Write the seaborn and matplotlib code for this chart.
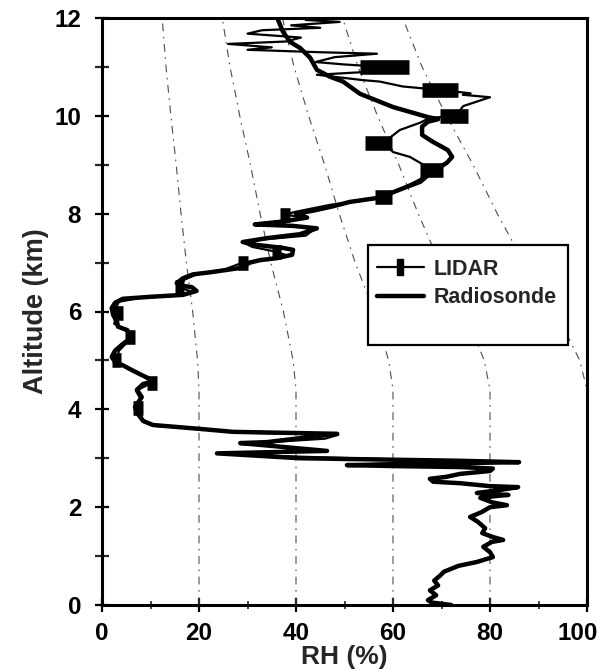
import numpy as np
import pandas as pd
import matplotlib
matplotlib.use("Agg")
import matplotlib.pyplot as plt
import matplotlib.transforms as mtransforms
import seaborn as sns
from matplotlib.lines import Line2D
from matplotlib.patches import Rectangle
from matplotlib.path import Path

# ---------------- data ----------------
sonde_alt = [0.0, 0.05, 0.1, 0.2, 0.3, 0.4, 0.5, 0.6, 0.68, 0.8, 0.88, 0.98, 1.08, 1.19, 1.29, 1.33,
             1.39, 1.47, 1.57, 1.7, 1.8, 1.9, 2.0, 2.04, 2.1, 2.19, 2.23, 2.25, 2.27, 2.29, 2.35, 2.41,
             2.43, 2.49, 2.52, 2.58, 2.62, 2.68, 2.74, 2.79, 2.82, 2.84, 2.86, 2.88, 2.92, 2.95, 2.97, 3.0,
             3.1, 3.15, 3.31, 3.33, 3.5, 3.54, 3.6, 3.68, 3.76, 3.93, 4.05, 4.25, 4.4, 4.52, 4.56,
             4.64, 4.7, 4.8, 4.9, 4.97, 5.07, 5.2, 5.32, 5.42, 5.52, 5.62, 5.69, 5.79, 5.93, 6.07,
             6.18, 6.26, 6.3, 6.34, 6.42, 6.5, 6.53, 6.58, 6.68, 6.76, 6.8, 6.89, 7.0, 7.05, 7.09,
             7.16, 7.26, 7.3, 7.36, 7.42, 7.5, 7.58, 7.7, 7.75, 7.78, 7.84, 7.92, 8.0, 8.06, 8.15,
             8.24, 8.32, 8.36, 8.55, 8.65, 8.85, 9.04, 9.16, 9.3, 9.47, 9.61, 9.78, 9.88, 9.93, 9.98,
             10.18, 10.45, 10.7, 10.8, 10.94, 11.19, 11.39, 11.51, 11.72, 11.96, 12.05]
sonde_rh = [72, 68, 67.2, 68.9, 67.6, 69.3, 68.5, 69.7, 70.5, 73.5, 77.3, 80.6, 80, 78.6, 80.4, 82.7,
            80.6, 78.4, 79, 77.5, 75.9, 78.3, 80, 83.5, 80.4, 78, 81.4, 83.8, 79.3, 77.3, 82, 85.8,
            80, 73.8, 68.3, 67.6, 71, 73.8, 80, 80.6, 73.8, 60, 50.5, 62, 86, 73, 60, 40.8,
            23.7, 46.4, 28.5, 34, 48.5, 27, 20.2, 10.5, 8.5, 7.2, 6.8, 8.2, 7.2, 8.5, 10.3,
            9.5, 8.2, 6.2, 4.3, 2.7, 2.0, 2.7, 4.1, 5.4, 5.8, 5.2, 3.3, 3.1, 2.3, 2.0,
            2.7, 4.3, 9.9, 16.7, 19.5, 18.5, 16, 15.4, 16.7, 18.8, 22.2, 28.5, 30.5, 32.6, 36,
            39.2, 39.4, 37.3, 32, 29, 34, 40.8, 44.3, 39.4, 31.5, 37.3, 42.3, 40, 43.5, 47.6,
            51.1, 56.7, 58, 62.9, 65.6, 68, 71.1, 72.2, 71.3, 68.2, 66, 66, 67.2, 69.3, 67,
            60, 53.2, 49.7, 47, 44.3, 42.9, 40.8, 38.8, 37.3, 36.3, 36]

lidar_alt = [2.86, 2.9, 2.95, 3.02, 3.08, 3.17, 3.3, 3.4, 3.48, 3.52, 3.6, 3.66, 3.78, 4.03, 4.2,
             4.38, 4.54, 4.68, 4.85, 5.0, 5.2, 5.45, 5.6, 5.75, 5.9, 6.0, 6.2, 6.28, 6.32, 6.4,
             6.5, 6.65, 6.78, 6.85, 7.0, 7.08, 7.15, 7.22, 7.32, 7.42, 7.48, 7.55, 7.7, 7.76, 7.8,
             7.86, 7.92, 7.98, 8.04, 8.18, 8.3, 8.35, 8.55, 8.7, 8.9, 9.16, 9.26, 9.45, 9.71, 9.86,
             9.96, 9.99, 10.2, 10.38, 10.43, 10.46, 10.53, 10.6, 10.7, 10.73, 10.84, 10.9, 11.0,
             11.05, 11.1, 11.2, 11.27, 11.3, 11.35, 11.4, 11.47, 11.52, 11.6, 11.68, 11.75, 11.8,
             11.85, 11.92, 11.96, 12.0]
lidar_rh = [50.5, 60, 70, 45, 25, 44, 30, 46, 48.7, 30, 20, 11, 8.5, 7.4, 8,
            7, 10.3, 8.5, 5, 3, 3.5, 6, 5, 2.5, 3, 2.5, 3.5, 8, 15, 18.5,
            16, 17, 20, 25, 29, 35, 38, 36, 31, 29, 34, 42, 44, 39, 33,
            38, 42, 37.7, 40, 47, 56, 58, 62.5, 65.5, 68, 63.5, 60, 58, 61.4, 65.6,
            67.6, 72.8, 74.5, 80, 74.4, 76, 69.7, 62, 57.3, 53.8, 44.3, 55, 58,
            50, 44, 48, 56.7, 45, 30, 35, 26, 38, 41, 30, 33, 45,
            39, 49, 42, 45]

bar_alt = [4.03, 4.54, 5.0, 5.48, 5.97, 6.5, 7.0, 7.22, 7.98, 8.35, 8.9, 9.45, 9.99, 10.53, 11.0]
bar_rh = [7.4, 10.3, 3.0, 5.8, 3.3, 16.0, 29.0, 36.0, 37.7, 58.0, 68.0, 57.0, 72.6, 69.7, 58.2]
bar_err = [1.0, 1.0, 1.0, 1.0, 1.0, 1.0, 1.0, 1.0, 1.1, 1.75, 2.35, 2.8, 2.9, 3.7, 5.0]

guide_levels = [20, 40, 60, 80, 100]
guide_alt = [0.0, 4.4, 5.0, 6.0, 7.0, 8.0, 9.0, 10.0, 11.0, 12.0]
guide_ratio = [1.0, 1.0, 0.985, 0.935, 0.87, 0.815, 0.765, 0.71, 0.66, 0.62]

x_ticks = [0, 20, 40, 60, 80, 100]
y_ticks = [0, 2, 4, 6, 8, 10, 12]
labels = ["LIDAR", "Radiosonde"]

# ---------------- style ----------------
sns.set_theme(style="ticks")
plt.rcParams["font.family"] = ["Liberation Sans", "DejaVu Sans"]
plt.rcParams["font.weight"] = "bold"

fig = plt.figure(figsize=(6.05, 6.69), dpi=100)
ax = fig.add_axes([102 / 605, 1 - 605 / 669, 485 / 605, 587 / 669])

# guide (dash-dot) curves
for lev in guide_levels:
    gx = [lev * r for r in guide_ratio]
    sns.lineplot(x=gx, y=guide_alt, sort=False, estimator=None, ax=ax,
                 color="0.3", lw=0.8, linestyle=(0, (7, 5, 1.5, 5)), zorder=1)

# radiosonde
sns.lineplot(x=sonde_rh, y=sonde_alt, sort=False, estimator=None, ax=ax,
             color="black", lw=3.2, zorder=3)
# lidar line
sns.lineplot(x=lidar_rh, y=lidar_alt, sort=False, estimator=None, ax=ax,
             color="black", lw=1.6, zorder=3)
# lidar error bars (rectangles)
bx = np.array(bar_rh)
be = np.array(bar_err)
ax.hlines(bar_alt, bx - be, bx + be, colors="black", lw=10.5, zorder=4)

ax.set_xlim(0, 100)
ax.set_ylim(0, 12)
ax.set_xticks(x_ticks)
ax.set_xticks(list(range(10, 100, 20)), minor=True)
ax.set_yticks(y_ticks)
ax.set_yticks(list(range(1, 12, 2)), minor=True)
ax.tick_params(axis="both", which="major", direction="inout", length=10, width=1.6,
               labelsize=17.5, colors="black")
ax.tick_params(axis="y", which="minor", direction="inout", length=10, width=1.6)
ax.tick_params(axis="x", which="minor", direction="inout", length=6, width=1.2)
ax.tick_params(axis="y", which="major", pad=10)
ax.tick_params(axis="x", which="major", pad=7)
for s in ax.spines.values():
    s.set_linewidth(2.2)
    s.set_color("black")

ax.set_xlabel("RH (%)", fontsize=19, fontweight="bold", labelpad=0)
ax.set_ylabel("Altitude (km)", fontsize=19.5, fontweight="bold", labelpad=4)

# legend
ax.add_patch(Rectangle((0.548, 0.443), 0.413, 0.17, transform=ax.transAxes,
                       facecolor="white", edgecolor="black", lw=1.6, zorder=5))
rect_marker = Path([(-0.35, -1), (0.35, -1), (0.35, 1), (-0.35, 1), (-0.35, -1)],
                   [Path.MOVETO, Path.LINETO, Path.LINETO, Path.LINETO, Path.CLOSEPOLY])
handles = [Line2D([0], [0], color="black", lw=1.6, marker=rect_marker, markersize=11,
                  markerfacecolor="black", markeredgecolor="black"),
           Line2D([0], [0], color="black", lw=3.2)]
leg = ax.legend(handles, labels, loc="upper left", bbox_to_anchor=(0.566, 0.59),
                frameon=False, borderpad=0, borderaxespad=0, handlelength=2.2,
                handletextpad=0.45, labelspacing=0.35,
                prop={"size": 15.5, "weight": "bold"})
leg.set_zorder(6)

fig.canvas.draw()
xlabs = ax.get_xticklabels()
for lab in xlabs + ax.get_yticklabels():
    lab.set_fontweight("bold")
shift = mtransforms.ScaledTranslation(-9 / 100, 0, fig.dpi_scale_trans)
xlabs[-1].set_transform(xlabs[-1].get_transform() + shift)

fig.savefig("out.png", dpi=100)
